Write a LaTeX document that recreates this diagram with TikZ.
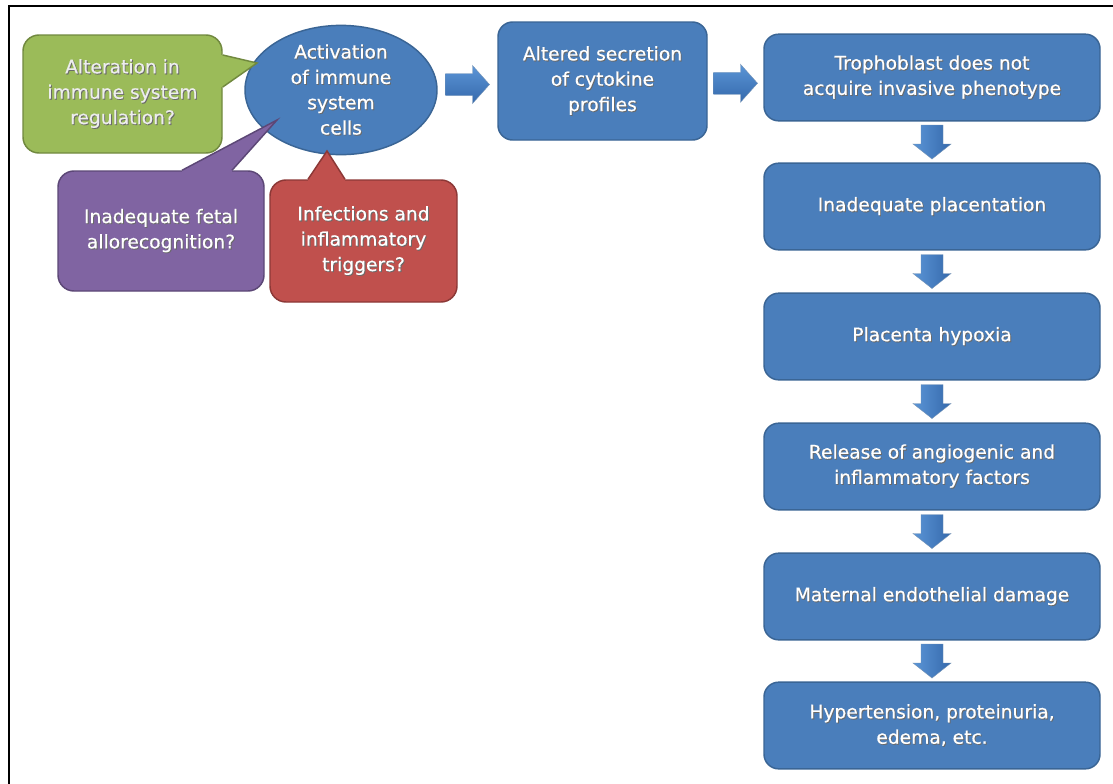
\documentclass[tikz,border=0pt]{standalone}
\usepackage{fontspec}
\setmainfont{DejaVu Sans}
\newfontfamily\boxfont{DejaVu Sans}[FakeBold=0.5]
\usetikzlibrary{calc,shapes.geometric}
\definecolor{bfill}{HTML}{4A7EBB}
\definecolor{bdraw}{HTML}{3A6595}
\definecolor{gfill}{HTML}{9BBB59}
\definecolor{gdraw}{HTML}{71893F}
\definecolor{pfill}{HTML}{8064A2}
\definecolor{pdraw}{HTML}{5C4776}
\definecolor{rfill}{HTML}{C0504D}
\definecolor{rdraw}{HTML}{8C3836}
\definecolor{alight}{HTML}{5B95D6}
\definecolor{adark}{HTML}{3569AC}
\definecolor{gtext}{HTML}{EDEDED}
\definecolor{shcol}{HTML}{2A2A2A}
\newcommand\shl[1]{\leavevmode\rlap{\raisebox{-0.7pt}{\kern0.7pt\textcolor{shcol!70}{#1}}}#1}
\begin{document}
\begin{tikzpicture}[x=0.75pt,y=-0.75pt,
  txt/.style={font=\fontsize{14}{19}\boxfont, align=center, text=white},
  bbox/.style={txt, rectangle, rounded corners=11pt, fill=bfill, draw=bdraw, line width=1.1pt, inner sep=2pt},
  colbox/.style={bbox, minimum width=252pt, minimum height=65pt},
  callout/.style={txt, rectangle, rounded corners=12pt, line width=1.1pt, inner sep=2pt},
  rarr/.pic={\shade[top color=alight, bottom color=adark, draw=bdraw!70, line width=0.3pt]
     (-22,-11) -- (5,-11) -- (5,-19) -- (22,0) -- (5,19) -- (5,11) -- (-22,11) -- cycle;},
  darr/.pic={\shade[left color=alight, right color=adark, draw=bdraw!70, line width=0.3pt]
     (-11,-17) -- (11,-17) -- (11,2) -- (19,2) -- (0,17) -- (-19,2) -- (-11,2) -- cycle;}
]
\useasboundingbox (0,0) rectangle (1113,783);
\fill[white] (0,0) rectangle (1113,783);
% frame
\draw[line width=2.2pt, line join=miter] (9,790) -- (9,6) -- (1120,6);

% left callouts and ellipse
\node[callout, fill=gfill, draw=gdraw, text=gtext, minimum width=149.25pt, minimum height=88.5pt] (g) at (122.5,94) {\shl{Alteration in}\\\shl{immune system}\\\shl{regulation?}};
\node[callout, fill=pfill, draw=pdraw, minimum width=154.5pt, minimum height=90pt] (p) at (161,231) {\shl{Inadequate fetal}\\\shl{allorecognition?}};
\node[callout, fill=rfill, draw=rdraw, minimum width=140.25pt, minimum height=91.5pt] (r) at (363.5,241) {\shl{Infections and}\\\shl{inflammatory}\\\shl{triggers?}};
\node[txt, ellipse, fill=bfill, draw=bdraw, line width=1.1pt, inner sep=0pt, minimum width=144pt, minimum height=96pt] (e) at (341,90) {\shl{Activation}\\\shl{of immune}\\\shl{system}\\\shl{cells}};

% callout tails
\coordinate (gtip) at (257,63);
\coordinate (ptip) at (277,120);
\coordinate (rtip) at (327,151);
\fill[gfill] ($(g.east)+(0,-39)$) -- (gtip) -- ($(g.east)+(0,-7)$) -- ($(g.east)+(-3,-7)$) -- ($(g.east)+(-3,-39)$) -- cycle;
\draw[gdraw, line width=1.1pt] ($(g.east)+(0,-39)$) -- (gtip) -- ($(g.east)+(0,-7)$);
\fill[pfill] ($(p.north)+(21,0)$) -- (ptip) -- ($(p.north)+(71,0)$) -- ($(p.north)+(71,3)$) -- ($(p.north)+(21,3)$) -- cycle;
\draw[pdraw, line width=1.1pt] ($(p.north)+(21,0)$) -- (ptip) -- ($(p.north)+(71,0)$);
\fill[rfill] ($(r.north)+(-55.5,0)$) -- (rtip) -- ($(r.north)+(-18.5,0)$) -- ($(r.north)+(-18.5,3)$) -- ($(r.north)+(-55.5,3)$) -- cycle;
\draw[rdraw, line width=1.1pt] ($(r.north)+(-55.5,0)$) -- (rtip) -- ($(r.north)+(-18.5,0)$);

% top row
\node[bbox, minimum width=156.75pt, minimum height=88.5pt] (alt) at (602.5,81) {\shl{Altered secretion}\\\shl{of cytokine}\\\shl{profiles}};

% right column
\node[colbox] (t1) at (932,77.5) {\shl{Trophoblast does not}\\\shl{acquire invasive phenotype}};
\node[colbox] (t2) at (932,206.5) {\shl{Inadequate placentation}};
\node[colbox] (t3) at (932,336.5) {\shl{Placenta hypoxia}};
\node[colbox] (t4) at (932,466.5) {\shl{Release of angiogenic and}\\\shl{inflammatory factors}};
\node[colbox] (t5) at (932,596.5) {\shl{Maternal endothelial damage}};
\node[colbox] (t6) at (932,725.5) {\shl{Hypertension, proteinuria,}\\\shl{edema, etc.}};

% block arrows
\pic at ($(e.east)!0.5!(alt.west)+(0,-1)$) {rarr};
\pic at ($(alt.east)!0.5!(t1.west)+(0,4)$) {rarr};
\pic at ($(t1.south)!0.5!(t2.north)$) {darr};
\pic at ($(t2.south)!0.5!(t3.north)$) {darr};
\pic at ($(t3.south)!0.5!(t4.north)$) {darr};
\pic at ($(t4.south)!0.5!(t5.north)$) {darr};
\pic at ($(t5.south)!0.5!(t6.north)$) {darr};
\end{tikzpicture}
\end{document}
